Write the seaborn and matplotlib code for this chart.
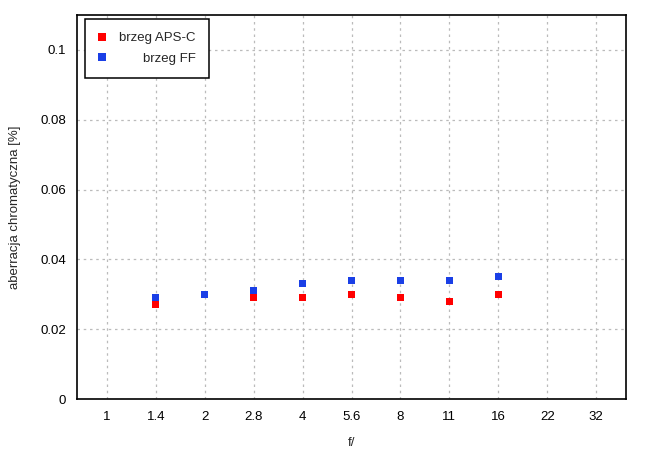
import matplotlib
matplotlib.use("Agg")
import matplotlib.pyplot as plt
import seaborn as sns
import pandas as pd
from matplotlib.ticker import MultipleLocator, FuncFormatter

f_labels = ["1", "1.4", "2", "2.8", "4", "5.6", "8", "11", "16", "22", "32"]
data_f = ["1.4", "2", "2.8", "4", "5.6", "8", "11", "16"]
aps_c = [0.027, 0.030, 0.029, 0.029, 0.030, 0.029, 0.028, 0.030]
ff = [0.029, 0.030, 0.031, 0.033, 0.034, 0.034, 0.034, 0.035]
series_names = ["brzeg APS-C", "brzeg FF"]
colors = ["#ff0000", "#1a3fe6"]

rows = []
for name, vals in zip(series_names, [aps_c, ff]):
    for f, v in zip(data_f, vals):
        rows.append({"pos": f_labels.index(f), "val": v, "series": name})
df = pd.DataFrame(rows)

sns.set_style("white")
plt.rcParams["font.family"] = ["Liberation Sans", "DejaVu Sans"]

fig = plt.figure(figsize=(6.5, 4.55), dpi=100)
ax = fig.add_axes([77/650, 56/455, (626-77)/650, (399-15)/455])

sns.scatterplot(data=df, x="pos", y="val", hue="series", hue_order=series_names,
                palette=colors, marker="s", s=26, linewidth=0, ax=ax, legend=True)

ax.set_xlim(-0.61, 10.61)
ax.set_ylim(0, 0.11)
ax.set_xticks(range(len(f_labels)))
ax.set_xticklabels(f_labels)
ax.yaxis.set_major_locator(MultipleLocator(0.02))
ax.yaxis.set_minor_locator(MultipleLocator(0.01))
ax.yaxis.set_major_formatter(FuncFormatter(lambda v, p: "%g" % round(v, 4)))

ax.tick_params(axis="both", which="major", direction="in", length=7, width=1,
               labelsize=9.5, colors="black", pad=8, top=False, right=False)
ax.tick_params(axis="y", which="minor", direction="in", length=4, width=1, right=False)
ax.tick_params(axis="x", pad=9)

ax.grid(True, which="major", linestyle=(0, (2, 3)), color="#bbbbbb", linewidth=0.9)
ax.set_axisbelow(True)
for sp in ax.spines.values():
    sp.set_color("black")
    sp.set_linewidth(1.2)

ax.set_xlabel("f/", fontsize=9.5, labelpad=10)
ax.set_ylabel("aberracja chromatyczna [%]", fontsize=9.5, labelpad=14)

leg = ax.legend(loc="upper left", bbox_to_anchor=(8/549, 1 - 4/384), fontsize=9.5,
                frameon=True, fancybox=False, edgecolor="black", framealpha=1,
                handletextpad=1.0, borderpad=1.0, borderaxespad=0.0,
                labelspacing=0.6, markerscale=1.0, handlelength=0.6)
leg.get_frame().set_linewidth(1.1)
fig.canvas.draw()
renderer = fig.canvas.get_renderer()
widths = [t.get_window_extent(renderer).width for t in leg.get_texts()]
maxw = max(widths)
for t, w in zip(leg.get_texts(), widths):
    t.set_position((maxw - w, 0))

fig.savefig("out.png", dpi=100)
